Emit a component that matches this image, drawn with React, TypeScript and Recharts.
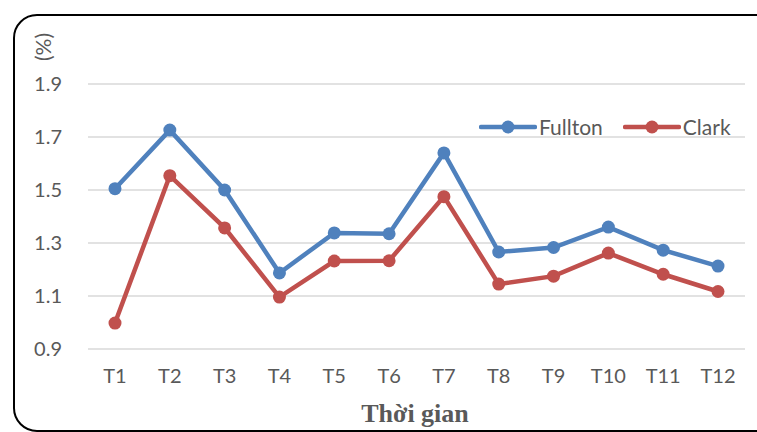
import { LineChart, Line, XAxis, YAxis, CartesianGrid } from "recharts";

const months = ["T1", "T2", "T3", "T4", "T5", "T6", "T7", "T8", "T9", "T10", "T11", "T12"];
const fullton = [1.505, 1.726, 1.5, 1.187, 1.338, 1.335, 1.64, 1.266, 1.283, 1.36, 1.273, 1.213];
const clark = [0.998, 1.554, 1.357, 1.096, 1.232, 1.233, 1.475, 1.145, 1.175, 1.262, 1.182, 1.117];
const yTicks = [0.9, 1.1, 1.3, 1.5, 1.7, 1.9];

const BLUE = "#4F81BD";
const RED = "#C0504D";
const TEXT = "#595959";
const FONT = "Lato, 'Open Sans', sans-serif";

const data = months.map((m, i) => ({ name: m, Fullton: fullton[i], Clark: clark[i] }));

const series = [
  { key: "Fullton", color: BLUE },
  { key: "Clark", color: RED },
];

// legend sits inside the plot, top right
const LegendBox = () => (
  <div
    style={{
      position: "absolute",
      left: 479,
      top: 114,
      display: "flex",
      alignItems: "center",
      fontFamily: FONT,
      fontSize: 21,
      color: TEXT,
    }}
  >
    {series.map((s) => (
      <div key={s.key} style={{ display: "flex", alignItems: "center", marginRight: 20 }}>
        <svg width={58} height={14}>
          <line x1={2} y1={7} x2={56} y2={7} stroke={s.color} strokeWidth={4.5} strokeLinecap="round" />
          <circle cx={29} cy={7} r={6.5} fill={s.color} />
        </svg>
        <span style={{ marginLeft: 2 }}>{s.key}</span>
      </div>
    ))}
  </div>
);

export default function App() {
  return (
    <div style={{ position: "fixed", left: 0, top: 0, width: 757, height: 432, overflow: "hidden", background: "#fff" }}>
      <div
        style={{
          position: "absolute",
          left: 13,
          top: 14,
          width: 770,
          height: 418,
          border: "2px solid #000",
          borderRadius: 24,
          boxSizing: "border-box",
        }}
      />
      <LineChart
        width={757}
        height={432}
        data={data}
        margin={{ top: 84, right: 12, bottom: 0, left: 28 }}
        style={{ position: "absolute", left: 0, top: 0 }}
      >
        <CartesianGrid vertical={false} stroke="#d9d9d9" strokeWidth={1.5} />
        <XAxis
          dataKey="name"
          padding={{ left: 27, right: 27 }}
          axisLine={false}
          tickLine={false}
          tickSize={0}
          tickMargin={20}
          height={83}
          interval={0}
          tick={{ fill: TEXT, fontSize: 20, fontFamily: FONT }}
        />
        <YAxis
          domain={[0.9, 1.9]}
          ticks={yTicks}
          width={60}
          axisLine={false}
          tickLine={false}
          tickSize={0}
          tickMargin={26}
          tickFormatter={(v: number) => v.toFixed(1)}
          tick={{ fill: TEXT, fontSize: 20, fontFamily: FONT }}
        />
        {series.map((s) => (
          <Line
            key={s.key}
            type="linear"
            dataKey={s.key}
            stroke={s.color}
            strokeWidth={4.5}
            dot={{ r: 6.5, fill: s.color, stroke: s.color, strokeWidth: 0 }}
            isAnimationActive={false}
          />
        ))}
      </LineChart>
      <LegendBox />
      <div
        style={{
          position: "absolute",
          left: 42,
          top: 47,
          transform: "translate(-50%, -50%) rotate(-90deg)",
          fontFamily: FONT,
          fontSize: 21,
          color: TEXT,
          whiteSpace: "nowrap",
        }}
      >
        (%)
      </div>
      <div
        style={{
          position: "absolute",
          left: 415,
          top: 414,
          transform: "translate(-50%, -50%)",
          fontFamily: "'Liberation Serif', serif",
          fontWeight: "bold",
          fontSize: 26,
          color: TEXT,
          whiteSpace: "nowrap",
        }}
      >
        Thời gian
      </div>
    </div>
  );
}
